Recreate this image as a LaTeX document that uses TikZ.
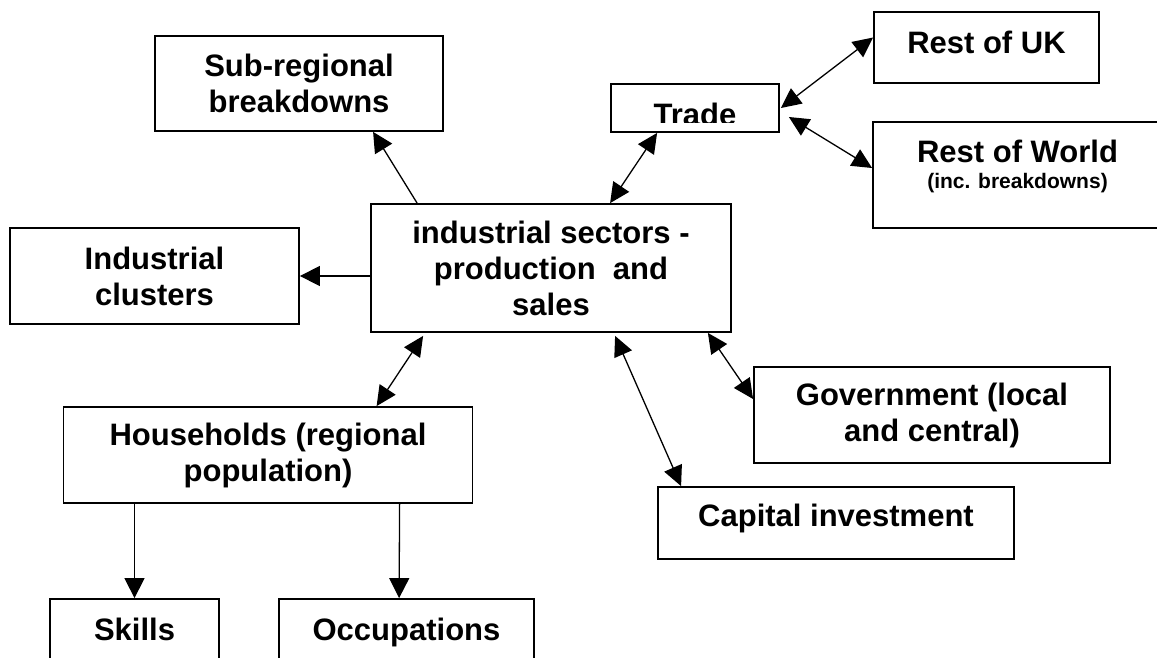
\documentclass[tikz,border=0pt]{standalone}
\usepackage{fontspec}
\setmainfont{Liberation Sans}
\usetikzlibrary{arrows.meta}

\begin{document}
\begin{tikzpicture}[
		x=1pt,y=-1pt,
		every node/.style={font=\fontsize{31}{36}\selectfont\bfseries},
		box/.style={draw,line width=1.8pt,align=center,inner sep=0pt},
		link/.style={line width=1.3pt,-{Triangle[length=20pt,width=20pt]}},
		twoway/.style={line width=1.3pt,{Triangle[length=20pt,width=19pt]}-{Triangle[length=20pt,width=19pt]}}
		]
		\useasboundingbox (0,0) rectangle (1157,657);
		\clip (0,0) rectangle (1157,657);
		\node[box,minimum width=288pt,minimum height=95pt] (sub) at (299,83.5) {Sub-regional\\breakdowns};
		\node[box,minimum width=168pt,minimum height=48pt] (trade) at (695,108) {};
		\begin{scope}
			\clip (trade.north west) rectangle ([yshift=10pt]trade.south east);
			\node (tradetext) at ([yshift=-6pt]trade.center) {Trade};
		\end{scope}
		\node[box,minimum width=225pt,minimum height=71pt,text depth=11pt] (ruk) at (986.5,47.5) {Rest of UK};
		\node[box,minimum width=289pt,minimum height=106pt,text depth=22pt] (row) at (1017.5,175) {Rest of World\\[-10pt]{\fontsize{21}{26}\selectfont (inc. breakdowns)}};
		\node[box,minimum width=360pt,minimum height=128pt] (sectors) at (551,268) {industrial sectors -\\production~ and\\sales};
		\node[box,minimum width=289pt,minimum height=96pt] (clusters) at (154.5,276) {Industrial\\clusters};
		\node[box,minimum width=409pt,minimum height=96pt] (house) at (268,455) {Households (regional\\population)};
		\node[box,minimum width=356pt,minimum height=96pt] (gov) at (932,415) {Government (local\\and central)};
		\node[box,minimum width=356pt,minimum height=72pt,text depth=15pt] (capital) at (836,523) {Capital investment};
		\node[box,minimum width=169pt,minimum height=61pt] (skills) at (134.5,629.5) {Skills};
		\node[box,minimum width=255pt,minimum height=61pt,text depth=0pt] (occ) at (406.5,629.5) {Occupations};

		\draw[link] ([xshift=47pt]sectors.north west) -- ([xshift=219pt]sub.south west);
		\draw[link] (clusters.east -| sectors.west) -- (clusters.east);
		\draw[twoway] ([xshift=240pt]sectors.north west) -- ([xshift=47pt]trade.south west);
		\draw[twoway] ([xshift=1pt]trade.east) -- ([yshift=10pt]ruk.west);
		\draw[twoway] ([xshift=9pt,yshift=-9pt]trade.east) -- ([yshift=7pt]row.west);
		\draw[twoway] ([xshift=53pt,yshift=-3pt]sectors.south west) -- ([xshift=314pt]house.north west);
		\draw[twoway] ([xshift=-24pt]sectors.south east) -- ([yshift=16pt]gov.west);
		\draw[twoway] ([xshift=245pt,yshift=-3pt]sectors.south west) -- ([xshift=24pt]capital.north west);
		\draw[link] (house.south -| skills.north) -- (skills.north);
		\draw[link] ([xshift=337pt]house.south west) -- ([xshift=121pt]occ.north west);
	\end{tikzpicture}
\end{document}
